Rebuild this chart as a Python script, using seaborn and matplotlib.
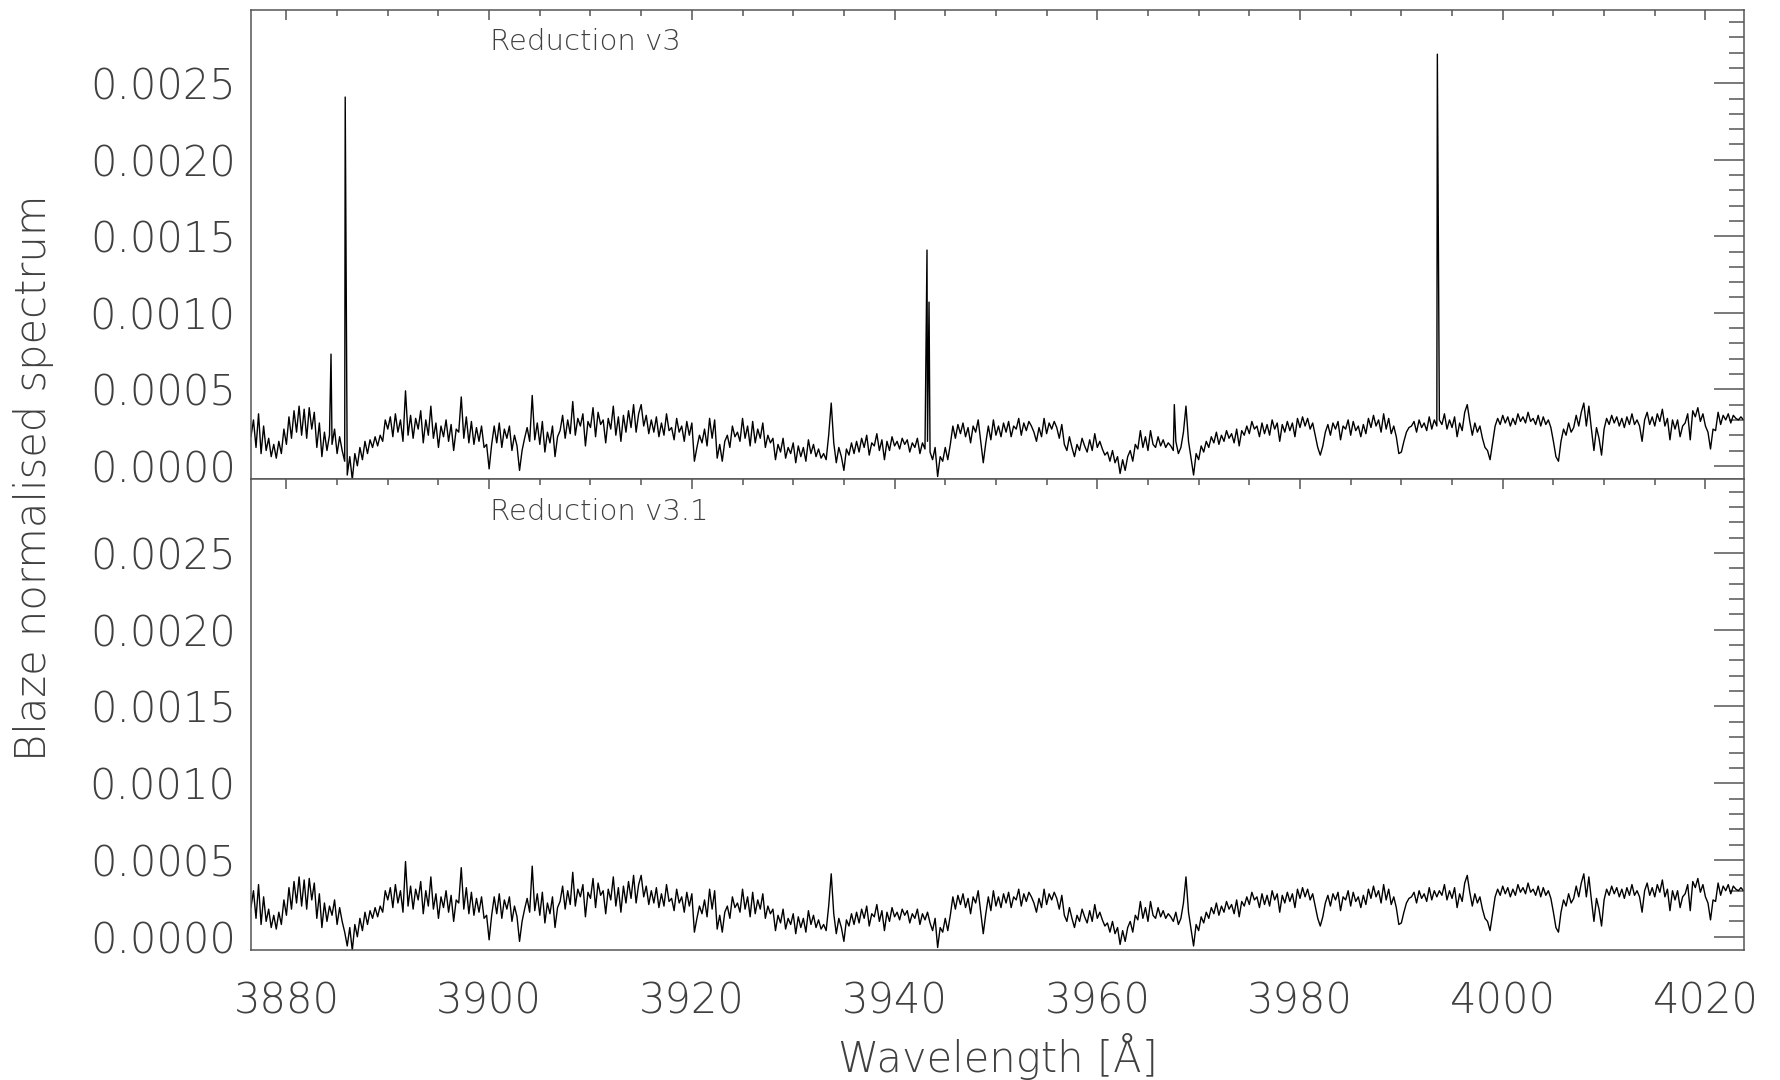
import numpy as np
import pandas as pd
import matplotlib
matplotlib.use("Agg")
import matplotlib.pyplot as plt
import seaborn as sns
from matplotlib.ticker import MultipleLocator, FormatStrFormatter
from matplotlib import font_manager

# ---------------- data (flux in units of 1e-4) ----------------
wl_start = 3876.5
wl_step = 0.25
flux_v31 = [
    1.9, 3.0,
    1.2, 3.4, 0.8, 2.6,  1.0, 1.8, 0.6, 1.4,  0.5, 1.6, 0.8, 2.4,  1.4, 3.2, 1.8, 3.6,
    2.2, 3.9, 2.0, 3.7,  1.8, 3.8, 2.4, 3.5,  1.2, 2.8, 0.6, 2.2,  1.0, 2.0, 1.4, 2.4,
    0.8, 1.9, 1.0, 0.3,  -0.6, 0.6, -0.9, 0.8, 0.0, 1.2, 0.4, 1.6,  0.8, 1.7, 1.2, 1.9,
    1.3, 2.0, 1.6, 3.0,  2.4, 3.2, 1.9, 3.4,  2.2, 3.0, 1.6, 4.9,  2.0, 3.3, 1.8, 3.1,
    2.4, 3.6, 1.5, 3.0,  2.0, 3.9, 1.8, 2.8,  1.2, 2.6, 1.9, 3.0,  1.6, 2.7, 1.0, 2.4,
    2.2, 4.5, 1.8, 3.2,  1.5, 2.9, 1.4, 2.5,  1.6, 2.6, 1.2, 1.4,  -0.2, 1.4, 2.6, 1.5,
    2.8, 1.2, 2.4, 1.8,  2.6, 1.0, 2.0, 1.3,  -0.3, 1.0, 1.8, 2.5, 1.6, 4.6, 1.7, 2.8,
    1.4, 2.9, 0.9, 2.2,  1.5, 2.6, 0.6, 1.9,  2.3, 3.3, 1.8, 3.0,  2.1, 4.2, 2.0, 3.1,
    2.6, 3.4, 1.3, 2.9,  2.5, 3.8, 1.9, 3.5,  2.7, 3.0, 1.5, 3.1,  2.4, 3.9, 2.0, 3.2,
    1.6, 3.3, 2.2, 3.6,  2.5, 4.0, 2.2, 3.4,  4.0, 2.6, 3.3, 2.1,  3.0, 2.2, 3.2, 1.9,
    2.8, 2.0, 3.4, 2.3,  2.5, 1.7, 3.1, 2.2,  2.6, 1.6, 2.9, 2.0,  2.8, 0.3, 1.2, 2.0,
    1.5, 2.4, 1.3, 3.1,  1.8, 3.0, 0.5, 1.4,  0.3, 1.6, 2.0, 1.2,  2.6, 1.9, 2.2, 1.6,
    3.1, 1.8, 2.6, 1.3,  2.9, 1.5, 2.4, 1.8,  2.8, 1.2, 2.0, 1.5,  1.8, 0.4, 1.4, 0.9,
    1.8, 0.5, 1.2, 0.8,  1.5, 0.2, 1.3, 0.6,  1.2, 0.3, 1.7, 0.8,  1.4, 0.6, 1.1, 0.5,
    0.8, 0.4, 2.0, 4.1,  1.5, 0.2, 1.2, 0.6,  -0.3, 1.1, 0.7, 1.5, 0.8, 1.6, 0.9, 1.8,
    1.2, 2.0, 0.7, 1.5,  1.3, 2.1, 1.0, 1.7,  0.4, 1.6, 1.0, 1.9,  1.3, 1.6, 1.1, 1.8,
    1.4, 1.7, 0.9, 1.5,  1.2, 1.8, 0.8, 1.5,  1.1, 1.6, 0.9, 0.4,  1.2, -0.7, 0.6, 0.3,
    1.2, 0.4, 1.4, 2.6,  1.8, 2.7, 2.1, 2.8,  1.9, 2.5, 1.5, 2.6,  2.2, 3.0, 1.6, 0.2,
    1.5, 2.6, 1.7, 3.0,  2.0, 2.6, 1.9, 2.8,  2.2, 2.9, 1.9, 2.6,  2.4, 3.1, 2.0, 2.8,
    2.3, 2.9, 2.6, 2.2,  1.6, 2.5, 1.9, 3.1,  2.1, 2.8, 2.4, 2.9,  2.5, 1.8, 2.7, 1.4,
    1.0, 1.9, 1.2, 0.6,  1.4, 1.0, 1.8, 1.3,  0.9, 1.7, 1.0, 2.1,  1.2, 1.6, 1.1, 0.7,
    0.9, 0.3, 1.0, 0.2,  0.6, -0.5, 0.4, -0.3, 0.6, 1.0, 0.3, 1.4,  1.1, 2.3, 1.2, 1.9,
    1.0, 2.3, 1.4, 1.2,  1.9, 1.3, 1.7, 1.2,  1.5, 1.3, 1.0, 1.6,  0.8, 1.2, 2.2, 3.9,
    1.6, 0.5, -0.6, 0.8, 0.4, 1.3, 0.9, 1.6,  1.2, 1.9, 1.5, 2.2,  1.4, 2.0, 1.6, 2.3,
    1.8, 2.1, 1.5, 2.4,  1.3, 2.3, 2.0, 2.6,  2.1, 2.9, 2.4, 2.6,  1.9, 2.8, 2.1, 2.7,
    2.0, 3.0, 2.4, 2.8,  1.6, 2.7, 2.2, 2.9,  2.3, 2.8, 1.9, 3.1,  2.5, 3.2, 2.6, 3.1,
    2.4, 2.8, 2.0, 1.2,  0.7, 1.3, 2.2, 2.7,  2.0, 2.8, 2.4, 2.9,  1.7, 2.6, 2.4, 3.0,
    2.0, 2.9, 2.3, 2.6,  1.9, 2.7, 2.1, 3.1,  2.5, 3.3, 2.6, 3.0,  2.2, 3.4, 2.4, 3.1,
    2.1, 2.6, 1.9, 0.8,  0.9, 1.6, 2.2, 2.5,  2.6, 2.9, 2.2, 3.0,  2.5, 2.8, 2.3, 3.2,
    2.4, 3.0, 2.6, 3.0,  2.7, 3.4, 2.4, 3.0,  2.5, 3.2, 1.9, 2.8,  2.3, 3.5, 4.0, 2.9,
    2.0, 2.8, 2.2, 2.6,  1.8, 1.2, 1.0, 0.4,  1.5, 2.6, 3.1, 2.7,  3.3, 2.8, 3.2, 2.6,
    3.1, 2.7, 3.4, 2.9,  3.2, 2.8, 3.5, 2.9,  3.1, 2.7, 3.3, 2.6,  3.2, 2.7, 3.0, 2.5,
    1.6, 0.6, 0.3, 1.6,  2.4, 2.0, 2.8, 2.2,  2.5, 3.3, 2.6, 3.5,  4.1, 2.6, 3.9, 2.4,
    1.0, 2.5, 1.8, 0.7,  2.4, 3.1, 2.7, 3.3,  2.8, 3.2, 2.6, 3.1,  2.5, 3.2, 2.7, 3.4,
    2.7, 3.0, 2.6, 1.6,  3.0, 3.5, 2.7, 3.2,  2.6, 3.4, 2.9, 3.7,  2.6, 3.1, 1.7, 3.0,
    2.4, 3.0, 1.9, 2.6,  2.8, 3.4, 1.7, 3.6,  3.2, 3.8, 2.9, 3.4,  2.6, 2.2, 1.1, 2.4,
    2.3, 3.5, 2.7, 3.3,  3.0, 3.4, 2.8, 3.3,  3.1, 3.0, 3.2, 3.0,
]
# cosmic-ray spikes present only in reduction v3
spike_wl = [3884.4, 3885.8, 3943.2, 3943.4, 3967.6, 3993.55]
spike_val = [7.3, 24.1, 14.1, 10.7, 4.0, 26.9]

x_ticks = [3880, 3900, 3920, 3940, 3960, 3980, 4000, 4020]
y_ticks = [0.0, 0.0005, 0.0010, 0.0015, 0.0020, 0.0025]
panel_labels = ["Reduction v3", "Reduction v3.1"]

# ---------------- build tables ----------------
wl = wl_start + wl_step * np.arange(len(flux_v31))
df_v31 = pd.DataFrame({"wl": wl, "flux": np.array(flux_v31) * 1e-4})
df_v3 = pd.concat([df_v31, pd.DataFrame({"wl": spike_wl, "flux": np.array(spike_val) * 1e-4})])
df_v3 = df_v3.sort_values("wl").reset_index(drop=True)

# ---------------- style ----------------
sns.set_style("white")
FONT = ["DejaVu Sans"]
plt.rcParams["font.family"] = FONT
# thin weight if an ExtraLight face is installed
has_light = any("ExtraLight" in f.fname for f in font_manager.fontManager.ttflist
                if f.name == "DejaVu Sans")
WEIGHT = "light" if has_light else "normal"
plt.rcParams["font.weight"] = WEIGHT
TXT = "#5a5a5a" if not has_light else "#404040"
AXC = "#555555"

fig = plt.figure(figsize=(17.81, 10.80), dpi=100)
ax_top = fig.add_axes([0.1409, 0.5565, 0.8383, 0.4347])
ax_bot = fig.add_axes([0.1409, 0.1204, 0.8383, 0.4361])

for ax, df, lab in [(ax_top, df_v3, panel_labels[0]), (ax_bot, df_v31, panel_labels[1])]:
    sns.lineplot(data=df, x="wl", y="flux", ax=ax, color="black", linewidth=1.0,
                 estimator=None, sort=False)
    ax.set_xlim(3876.5, 4023.8)
    ax.set_ylim(-0.000086, 0.002982)
    ax.set_xticks(x_ticks)
    ax.set_yticks(y_ticks)
    ax.xaxis.set_minor_locator(MultipleLocator(5))
    ax.yaxis.set_minor_locator(MultipleLocator(0.0001))
    ax.yaxis.set_major_formatter(FormatStrFormatter("%.4f"))
    ax.tick_params(which="both", direction="in", top=True, right=True,
                   color=AXC, width=1.1, labelcolor=TXT, labelsize=30)
    ax.tick_params(axis="x", which="major", length=7.5, pad=22)
    ax.tick_params(axis="x", which="minor", length=4.3)
    ax.tick_params(axis="y", which="major", length=21.5, pad=11)
    ax.tick_params(axis="y", which="minor", length=10.5)
    for s in ax.spines.values():
        s.set_color(AXC)
        s.set_linewidth(1.1)
    ax.set_xlabel("")
    ax.set_ylabel("")
    ax.text(3900.1, 0.00277, lab, fontsize=21, color=TXT, ha="left", va="center",
            family=FONT, fontweight=WEIGHT)

ax_top.tick_params(axis="x", labelbottom=False)
ax_bot.set_xlabel("Wavelength [Å]", fontsize=30, color=TXT, labelpad=8, fontweight=WEIGHT)
fig.text(0.019, 0.558, "Blaze normalised spectrum", rotation=90, fontsize=30,
         color=TXT, ha="center", va="center", family=FONT, fontweight=WEIGHT)

fig.savefig("out.png", dpi=100)
